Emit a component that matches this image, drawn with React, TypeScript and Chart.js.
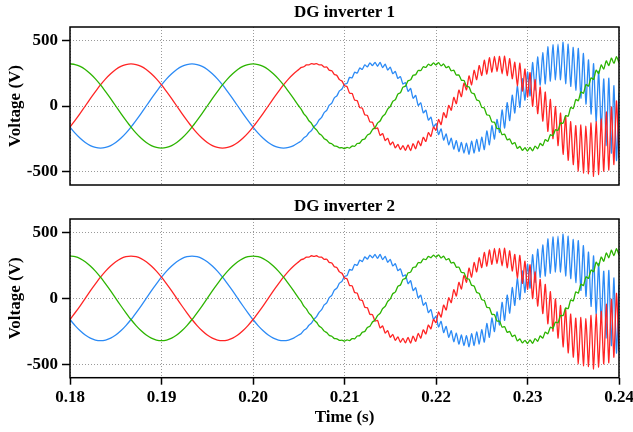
import { useEffect, useRef } from "react";
import { Chart, registerables } from "chart.js";

Chart.register(...registerables);

// Sampling: smooth part 0.180–0.205 s every 1/1800 s, oscillating part every 1/3600 s up to 0.240 s
const smoothStart = 0.18;
const smoothStep = 1 / 1800;
const rippleStart = 0.205;
const rippleStep = 1 / 3600;

const timeTicks = [0.18, 0.19, 0.2, 0.21, 0.22, 0.23, 0.24];
const voltTicks = [-500, 0, 500];
const panelTitles = ["DG inverter 1", "DG inverter 2"];

const redSmooth = [-160, -109, -56, 0, 56, 109, 160, 206, 245, 277, 301, 315, 320, 315, 301, 277, 245, 206, 160, 109, 56, 0, -56, -109, -160, -206, -245, -277, -301, -315, -320, -315, -301, -277, -245, -206, -160, -109, -56, 0, 56, 109, 160, 206, 245, 277];
const redRipple = [293, 298, 312, 312, 322, 317, 322, 312, 312, 295, 296, 271, 268, 239, 232, 200, 190, 154, 147, 97, 95, 44, 40, -12, -16, -68, -71, -121, -123, -172, -167, -223, -209, -262, -245, -294, -273, -318, -292, -332, -302, -337, -295, -339, -285, -325, -266, -301, -238, -269, -202, -230, -160, -184, -103, -141, -51, -88, 4, -32, 66, 18, 121, 71, 173, 122, 229, 161, 271, 200, 307, 232, 348, 243, 367, 257, 377, 262, 377, 245, 379, 231, 360, 207, 332, 154, 325, 114, 281, 68, 254, -2, 200, -58, 144, -115, 106, -192, 50, -248, -4, -300, -54, -367, -78, -412, -119, -445, -149, -495, -144, -510, -154, -515, -129, -535, -119, -520, -99, -495, -44, -487, -7, -445, 38, -398];

const greenSmooth = [320, 315, 301, 277, 245, 206, 160, 109, 56, 0, -56, -109, -160, -206, -245, -277, -301, -315, -320, -315, -301, -277, -245, -206, -160, -109, -56, 0, 56, 109, 160, 206, 245, 277, 301, 315, 320, 315, 301, 277, 245, 206, 160, 109, 56, 0];
const greenRipple = [-25, -59, -80, -112, -132, -163, -181, -209, -223, -248, -259, -280, -287, -304, -306, -318, -316, -323, -314, -320, -304, -306, -285, -282, -257, -250, -221, -211, -179, -165, -130, -114, -78, -61, -23, -5, 36, 48, 91, 101, 143, 152, 192, 198, 234, 237, 270, 269, 298, 293, 317, 307, 327, 312, 329, 305, 319, 291, 300, 267, 272, 235, 236, 196, 194, 150, 145, 99, 93, 46, 38, -10, -16, -68, -71, -121, -123, -172, -172, -218, -214, -257, -250, -289, -278, -322, -307, -337, -317, -342, -314, -340, -304, -325, -284, -301, -255, -268, -218, -227, -180, -185, -129, -131, -73, -78, -11, -19, 49, 40, 107, 97, 163, 151, 214, 202, 273, 246, 312, 281, 343, 307, 364, 323, 375, 328];

const blueSmooth = [-160, -206, -245, -277, -301, -315, -320, -315, -301, -277, -245, -206, -160, -109, -56, 0, 56, 109, 160, 206, 245, 277, 301, 315, 320, 315, 301, 277, 245, 206, 160, 109, 56, 0, -56, -109, -160, -206, -245, -277, -301, -315, -320, -315, -301, -277];
const blueRipple = [-265, -242, -229, -203, -187, -157, -138, -106, -86, -50, -34, 6, 22, 62, 77, 115, 129, 166, 172, 218, 214, 257, 250, 289, 278, 313, 297, 327, 307, 332, 302, 332, 292, 318, 273, 294, 245, 262, 209, 223, 167, 177, 111, 133, 59, 80, 4, 24, -52, -32, -107, -85, -159, -136, -216, -174, -258, -213, -294, -245, -328, -263, -347, -277, -357, -282, -367, -267, -357, -253, -345, -236, -331, -189, -294, -149, -251, -102, -201, -30, -167, 25, -111, 82, -53, 152, -10, 207, 44, 259, 77, 330, 122, 372, 159, 405, 169, 450, 189, 465, 199, 470, 199, 485, 169, 470, 149, 445, 119, 437, 60, 399, 15, 350, -61, 321, -117, 264, -175, 205, -300, 211, -358, 154, -414, 100];

const seriesColors = { green: "#2cb400", red: "#ff2424", blue: "#2b8af5" };
const FONT = "'Liberation Serif', 'Times New Roman', serif";

function toPoints(smooth: number[], ripple: number[]) {
  const pts = smooth.map((v, k) => ({ x: smoothStart + k * smoothStep, y: v }));
  ripple.forEach((v, i) => pts.push({ x: rippleStart + (i + 1) * rippleStep, y: v }));
  return pts;
}

const framePlugin = {
  id: "panelFrame",
  afterDraw(chart: any, _args: any, opts: any) {
    const { ctx, chartArea: a } = chart;
    ctx.save();
    ctx.strokeStyle = "#000";
    ctx.lineWidth = 1.5;
    ctx.strokeRect(a.left, a.top, a.right - a.left, a.bottom - a.top);
    ctx.fillStyle = "#000";
    ctx.font = `bold 17px ${FONT}`;
    ctx.textAlign = "center";
    ctx.textBaseline = "middle";
    ctx.fillText(opts.title, (a.left + a.right) / 2, a.top - opts.titleOffset);
    ctx.restore();
  },
};

function makeConfig(panel: number): any {
  const showX = panel === 1;
  const font = { family: FONT, size: 17, weight: "bold" as const };
  const gridBase = {
    color: "#9a9a9a",
    lineWidth: 1,
    tickColor: "#000",
    tickWidth: 1.5,
    tickBorderDash: [],
  };
  const borderBase = { display: false, dash: [1, 2] };
  const mk = (smooth: number[], ripple: number[], color: string) => ({
    data: toPoints(smooth, ripple),
    borderColor: color,
    borderWidth: 1.3,
    pointRadius: 0,
    tension: 0.2,
    fill: false,
  });
  return {
    type: "line",
    data: {
      datasets: [
        mk(greenSmooth, greenRipple, seriesColors.green),
        mk(redSmooth, redRipple, seriesColors.red),
        mk(blueSmooth, blueRipple, seriesColors.blue),
      ],
    },
    plugins: [framePlugin],
    options: {
      animation: false,
      responsive: false,
      maintainAspectRatio: false,
      events: [],
      layout: { padding: { left: 0, right: 14, top: showX ? 19 : 27, bottom: 0 } },
      plugins: {
        legend: { display: false },
        tooltip: { enabled: false },
        title: { display: false },
        panelFrame: { title: panelTitles[panel], titleOffset: showX ? 12 : 14 },
      },
      scales: {
        x: {
          type: "linear",
          min: 0.18,
          max: 0.24,
          afterBuildTicks: (s: any) => {
            s.ticks = timeTicks.map((v) => ({ value: v }));
          },
          afterFit: (s: any) => {
            s.height = showX ? 54.3 : 15;
            s.paddingLeft = 0;
            s.paddingRight = 0;
          },
          grid: { ...gridBase, drawTicks: showX, tickLength: 7 },
          border: borderBase,
          ticks: {
            display: showX,
            padding: 3,
            maxRotation: 0,
            autoSkip: false,
            color: "#000",
            font,
            callback: (v: any) => Number(v).toFixed(2),
          },
          title: {
            display: showX,
            text: "Time (s)",
            color: "#000",
            font,
            padding: { top: 0, bottom: 4 },
          },
        },
        y: {
          type: "linear",
          min: -600,
          max: 600,
          afterBuildTicks: (s: any) => {
            s.ticks = voltTicks.map((v) => ({ value: v }));
          },
          afterFit: (s: any) => {
            s.width = 70;
          },
          grid: { ...gridBase, drawTicks: true, tickLength: 8 },
          border: borderBase,
          ticks: { padding: 4, color: "#000", font },
          title: {
            display: true,
            text: "Voltage (V)",
            color: "#000",
            font,
            padding: { top: 5, bottom: 0 },
          },
        },
      },
    },
  };
}

export default function App() {
  const ref1 = useRef<HTMLCanvasElement>(null);
  const ref2 = useRef<HTMLCanvasElement>(null);
  useEffect(() => {
    document.body.style.margin = "0";
    const c1 = new Chart(ref1.current as HTMLCanvasElement, makeConfig(0));
    const c2 = new Chart(ref2.current as HTMLCanvasElement, makeConfig(1));
    return () => {
      c1.destroy();
      c2.destroy();
    };
  }, []);
  return (
    <div style={{ position: "relative", width: 633, height: 432, background: "#fff" }}>
      <canvas ref={ref1} width={633} height={200} style={{ display: "block", width: 633, height: 200 }} />
      <canvas ref={ref2} width={633} height={232} style={{ display: "block", width: 633, height: 232 }} />
    </div>
  );
}
